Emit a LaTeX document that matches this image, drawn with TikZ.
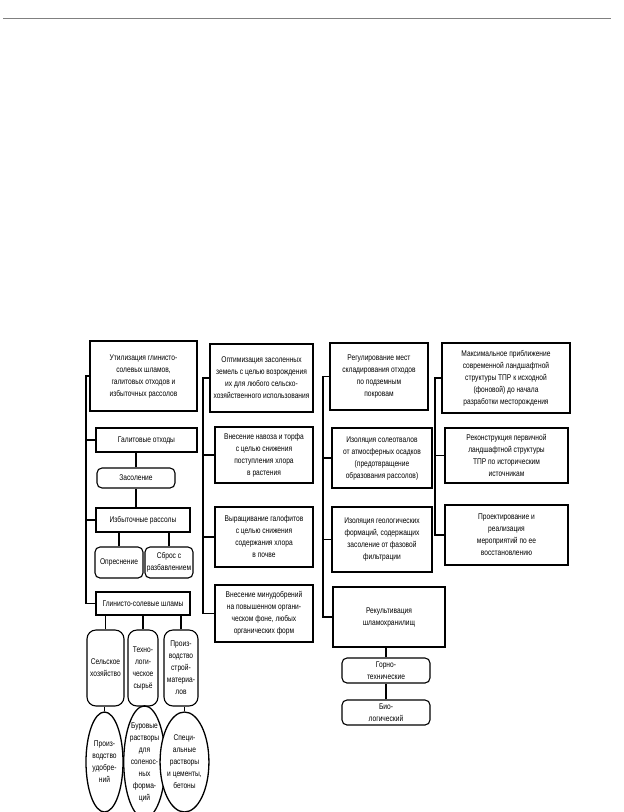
\documentclass[tikz,border=0pt]{standalone}
\usepackage{fontspec}
\setmainfont{Liberation Sans}[FakeStretch=0.8]
\usetikzlibrary{shapes.geometric}
\newcommand\dgfont{\fontsize{8.3}{12}\selectfont}
\begin{document}
\begin{tikzpicture}[x=1pt,y=-1pt,
  bx/.style={draw, line width=1.8pt, fill=white, inner sep=1pt, align=center, font=\dgfont},
  rbx/.style={draw, line width=1.1pt, rounded corners=5pt, fill=white, inner sep=1pt, align=center, font=\dgfont},
  tall/.style={draw, line width=1.1pt, rounded corners=9pt, fill=white, inner sep=0pt, align=center, font=\dgfont},
  ell/.style={ellipse, draw, line width=1.3pt, fill=white, inner sep=0pt, align=center, font=\dgfont},
  ln/.style={line width=1.4pt}]
\fill[white] (0,0) rectangle (624,812);
\useasboundingbox (0,0) rectangle (624,812);
\draw[gray, line width=0.6pt] (3,18) -- (611,18);

% column 1
\node[bx, minimum width=107, minimum height=70] (A) at (143.5,376) {Утилизация глинисто-\\солевых шламов,\\галитовых отходов и\\избыточных рассолов};
\node[bx, minimum width=101, minimum height=24] (B) at (146.5,440) {Галитовые отходы};
\node[rbx, minimum width=78, minimum height=20] (C) at (136,478) {Засоление};
\node[bx, minimum width=94, minimum height=24] (D) at (143,520) {Избыточные рассолы};
\node[rbx, minimum width=48, minimum height=31] (E) at (119,562.5) {Опреснение};
\node[rbx, minimum width=48, minimum height=31] (F) at (169,562.5) {Сброс с\\разбавлением};
\node[bx, minimum width=94, minimum height=23] (G) at (143,603.5) {Глинисто-солевые шламы};
\node[tall, minimum width=37, minimum height=76] (H1) at (105.5,668) {Сельское\\хозяйство};
\node[tall, minimum width=30, minimum height=76] (H2) at (143,668) {Техно-\\логи-\\ческое\\сырьё};
\node[tall, minimum width=34, minimum height=76] (H3) at (181,668) {Произ-\\водство\\строй-\\материа-\\лов};
\node[ell, minimum width=37, minimum height=100] (E1) at (104.5,762) {Произ-\\водство\\удобре-\\ний};
\node[ell, minimum width=37, minimum height=100] (E2) at (144.5,762) {Буровые\\растворы\\для\\соленос-\\ных\\форма-\\ций};
\node[ell, minimum width=37, minimum height=100] (E3) at (184.5,762) {Специ-\\альные\\растворы\\и цементы,\\бетоны};

\coordinate (k1) at (86,0);
\draw[ln] (A.west) -- (A.west -| k1) |- (G.west);
\draw[ln] (B.west) -- (B.west -| k1);
\draw[ln] (D.west) -- (D.west -| k1);
\draw[ln] (C.north) -- (C.north |- B.south);
\draw[ln] (C.south) -- (C.south |- D.north);
\draw[ln] (E.north) -- (E.north |- D.south);
\draw[ln] (F.north) -- (F.north |- D.south);
\draw[ln] (H1.north) -- (H1.north |- G.south);
\draw[ln] (H2.north) -- (H2.north |- G.south);
\draw[ln] (H3.north) -- (H3.north |- G.south);
\draw[ln] (E1.north) -- (E1.north |- H1.south);
\draw[ln] (E2.north) -- (E2.north |- H2.south);
\draw[ln] (E3.north) -- (E3.north |- H3.south);

% column 2
\node[bx, minimum width=103, minimum height=68] (A2) at (261.5,378) {Оптимизация засоленных\\земель с целью возрождения\\их для любого сельско-\\хозяйственного использования};
\node[bx, minimum width=98, minimum height=56] (B2) at (264,455) {Внесение навоза и торфа\\с целью снижения\\поступления хлора\\в растения};
\node[bx, minimum width=98, minimum height=60] (C2) at (264,537) {Выращивание галофитов\\с целью снижения\\содержания хлора\\в почве};
\node[bx, minimum width=98, minimum height=57] (D2) at (264,613.5) {Внесение минудобрений\\на повышенном органи-\\ческом фоне, любых\\органических форм};
\coordinate (k2) at (203,0);
\draw[ln] (A2.west) -- (A2.west -| k2) |- (D2.west);
\draw[ln] (B2.west) -- (B2.west -| k2);
\draw[ln] (C2.west) -- (C2.west -| k2);

% column 3
\node[bx, minimum width=98, minimum height=67] (A3) at (379,376.5) {Регулирование мест\\складирования отходов\\по подземным\\покровам};
\node[bx, minimum width=100, minimum height=60] (B3) at (382,458) {Изоляция солеотвалов\\от атмосферных осадков\\(предотвращение\\образования рассолов)};
\node[bx, minimum width=100, minimum height=65] (C3) at (382,539.5) {Изоляция геологических\\формаций, содержащих\\засоление от фазовой\\фильтрации};
\node[bx, minimum width=112, minimum height=60] (D3) at (389,617) {Рекультивация\\шламохранилищ};
\node[rbx, minimum width=88, minimum height=25] (E3r) at (386,670.5) {Горно-\\технические};
\node[rbx, minimum width=88, minimum height=25] (F3r) at (386,712.5) {Био-\\логический};
\coordinate (k3) at (323,0);
\draw[ln] (A3.west) -- (A3.west -| k3) |- (D3.west);
\draw[ln] (B3.west) -- (B3.west -| k3);
\draw[ln] (C3.west) -- (C3.west -| k3);
\draw[ln] (E3r.north) -- (E3r.north |- D3.south);
\draw[ln] (F3r.north) -- (E3r.south);

% column 4
\node[bx, minimum width=128, minimum height=70] (A4) at (506,378) {Максимальное приближение\\современной ландшафтной\\структуры ТПР к исходной\\(фоновой) до начала\\разработки месторождения};
\node[bx, minimum width=123, minimum height=55] (B4) at (506.5,455.5) {Реконструкция первичной\\ландшафтной структуры\\ТПР по историческим\\источникам};
\node[bx, minimum width=123, minimum height=60] (C4) at (506.5,535) {Проектирование и\\реализация\\мероприятий по ее\\восстановлению};
\coordinate (k4) at (435,0);
\draw[ln] (A4.west) -- (A4.west -| k4) |- (C4.west);
\draw[ln] (B4.west) -- (B4.west -| k4);
\end{tikzpicture}
\end{document}
